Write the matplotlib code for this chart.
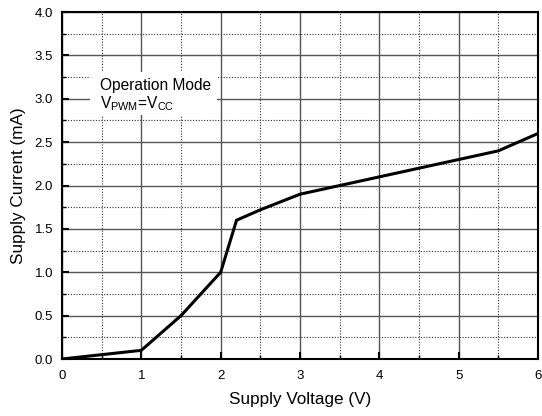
import matplotlib
matplotlib.use("Agg")
import matplotlib.pyplot as plt
from matplotlib.ticker import MultipleLocator
from matplotlib.patches import Rectangle

plt.rcParams['font.family'] = ['Liberation Sans', 'DejaVu Sans']
plt.rcParams['mathtext.fontset'] = 'custom'
plt.rcParams['mathtext.rm'] = 'Liberation Sans'

voltage = [0, 0.5, 1.0, 1.5, 2.0, 2.2, 2.5, 3.0, 3.5, 4.0, 4.5, 5.0, 5.5, 6.0]
current = [0, 0.05, 0.1, 0.5, 1.0, 1.6, 1.72, 1.9, 2.0, 2.1, 2.2, 2.3, 2.4, 2.6]
x_ticks = [0, 1, 2, 3, 4, 5, 6]
y_ticks = [0.0, 0.5, 1.0, 1.5, 2.0, 2.5, 3.0, 3.5, 4.0]

fig = plt.figure(figsize=(5.42, 4.16), dpi=100)
ax = fig.add_axes([0.1144, 0.137, 0.8782, 0.834])

ax.plot(voltage, current, color='black', lw=2.2, zorder=3, solid_joinstyle='miter')
ax.set_xlim(0, 6)
ax.set_ylim(0, 4)
ax.set_xticks(x_ticks)
ax.set_yticks(y_ticks)
ax.set_xticklabels([str(v) for v in x_ticks])
ax.set_yticklabels([f"{v:.1f}" for v in y_ticks])
ax.xaxis.set_minor_locator(MultipleLocator(0.5))
ax.yaxis.set_minor_locator(MultipleLocator(0.25))
ax.tick_params(which='both', direction='in', top=False, right=False, labelsize=9.5)
ax.tick_params(which='major', length=5, width=1.5)
ax.tick_params(which='minor', length=3, width=1)
ax.tick_params(axis='x', which='major', pad=8)
ax.tick_params(axis='y', which='major', pad=6.5)
ax.grid(which='major', color='#555555', lw=1.0, ls='-')
ax.grid(which='minor', color='#333333', lw=0.8, ls=(0, (1, 1.5)))
ax.set_axisbelow(True)
for s in ax.spines.values():
    s.set_linewidth(1.5)

ax.set_xlabel('Supply Voltage (V)', fontsize=12.3, labelpad=7)
ax.set_ylabel('Supply Current (mA)', fontsize=12.3, labelpad=6)

ax.add_patch(Rectangle((0.35, 2.81), 1.6, 0.5, facecolor='white', edgecolor='none', zorder=2.5))
ax.text(0.48, 3.10, 'Operation Mode', fontsize=11.2, va='baseline', ha='left', zorder=4)
ax.text(0.48, 2.89, r'V$_{\mathregular{PWM}}$=V$_{\mathregular{CC}}$', fontsize=11.2,
        va='baseline', ha='left', zorder=4)

fig.savefig('out.png', dpi=100)
